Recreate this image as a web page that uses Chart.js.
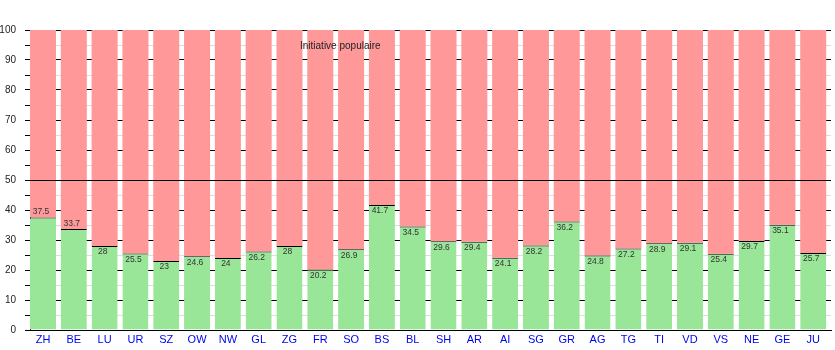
<!DOCTYPE html>
<html><head><meta charset="utf-8">
<script src="https://cdn.jsdelivr.net/npm/chart.js@4"></script>
<style>html,body{margin:0;padding:0;background:#fff}#w{width:835px;height:350px}</style>
</head><body><div id="w"><canvas id="c"></canvas></div>
<script>
const categories = ['ZH','BE','LU','UR','SZ','OW','NW','GL','ZG','FR','SO','BS','BL','SH','AR','AI','SG','GR','AG','TG','TI','VD','VS','NE','GE','JU'];
const yesValues = [37.5,33.7,28,25.5,23,24.6,24,26.2,28,20.2,26.9,41.7,34.5,29.6,29.4,24.1,28.2,36.2,24.8,27.2,28.9,29.1,25.4,29.7,35.1,25.7];
const noValues = [62.5,66.3,72,74.5,77,75.4,76,73.8,72,79.8,73.1,58.3,65.5,70.4,70.6,75.9,71.8,63.8,75.2,72.8,71.1,70.9,74.6,70.3,64.9,74.3];
const yTicks = [0,10,20,30,40,50,60,70,80,90,100];
const majorityLine = 50;
const titleText = 'Initiative populaire';

const FONT = '"Liberation Sans", Arial, sans-serif';

const overlay = {
  id: 'overlay',
  afterDatasetsDraw(chart) {
    const {ctx, chartArea: a, scales: {x, y}} = chart;
    ctx.save();
    ctx.font = '8.5px ' + FONT;
    ctx.fillStyle = '#333';
    ctx.textAlign = 'center';
    ctx.textBaseline = 'middle';
    const meta = chart.getDatasetMeta(0);
    meta.data.forEach((bar, i) => {
      const above = i < 2;
      const ty = above ? bar.y - 5.5 : bar.y + 6;
      ctx.fillText(String(yesValues[i]), bar.x - 2, ty);
    });
    const py = Math.round(y.getPixelForValue(majorityLine)) + 0.5;
    ctx.strokeStyle = '#000';
    ctx.lineWidth = 1;
    ctx.beginPath();
    ctx.moveTo(a.left, py);
    ctx.lineTo(a.right, py);
    ctx.stroke();
    ctx.font = '10px ' + FONT;
    ctx.fillStyle = '#222';
    ctx.textAlign = 'left';
    ctx.fillText(titleText, a.left + 270, a.top + 16);
    ctx.restore();
  }
};

new Chart(document.getElementById('c'), {
  type: 'bar',
  data: {
    datasets: [
      {
        data: yesValues.map((v, i) => ({x: i, y: v})),
        backgroundColor: '#99e699',
        borderColor: '#000',
        borderWidth: {top: 1, left: 0, right: 0, bottom: 0},
        borderSkipped: false,
        barPercentage: 0.845,
        categoryPercentage: 1
      },
      {
        data: noValues.map((v, i) => ({x: i, y: v})),
        backgroundColor: '#ff9999',
        borderWidth: 0,
        barPercentage: 0.845,
        categoryPercentage: 1
      }
    ]
  },
  options: {
    responsive: true,
    maintainAspectRatio: false,
    animation: false,
    events: [],
    layout: {padding: {top: 30, right: 4, left: 0, bottom: 0}},
    plugins: {legend: {display: false}, tooltip: {enabled: false}, title: {display: false}},
    scales: {
      x: {
        type: 'linear',
        stacked: true,
        offset: false,
        min: -0.4225,
        max: 25.5775,
        afterBuildTicks: s => { s.ticks = categories.map((_, i) => ({value: i})); },
        afterFit: s => { s.height = 20; },
        grid: {display: false, drawTicks: false, tickLength: 0, offset: false},
        border: {display: true, color: '#000', width: 1},
        ticks: {
          autoSkip: false, maxRotation: 0, padding: 3,
          color: '#0000ee',
          font: {family: FONT, size: 11},
          callback: v => categories[v]
        }
      },
      y: {
        stacked: true,
        min: 0, max: 100,
        afterBuildTicks: s => {
          const t = [];
          yTicks.forEach((v, i) => { t.push({value: v}); if (i < yTicks.length - 1) t.push({value: (v + yTicks[i + 1]) / 2}); });
          s.ticks = t;
        },
        afterFit: s => { s.width = 30; },
        grid: {
          color: c => (c.tick && yTicks.includes(c.tick.value)) ? '#000' : '#dddddd',
          tickColor: '#000',
          tickLength: 5,
          lineWidth: 1
        },
        border: {display: true, color: '#000', width: 1},
        ticks: {
          padding: 9,
          color: '#222',
          font: {family: FONT, size: 10},
          callback: v => yTicks.includes(v) ? String(v) : ''
        }
      }
    }
  },
  plugins: [overlay]
});
</script>
</body></html>
